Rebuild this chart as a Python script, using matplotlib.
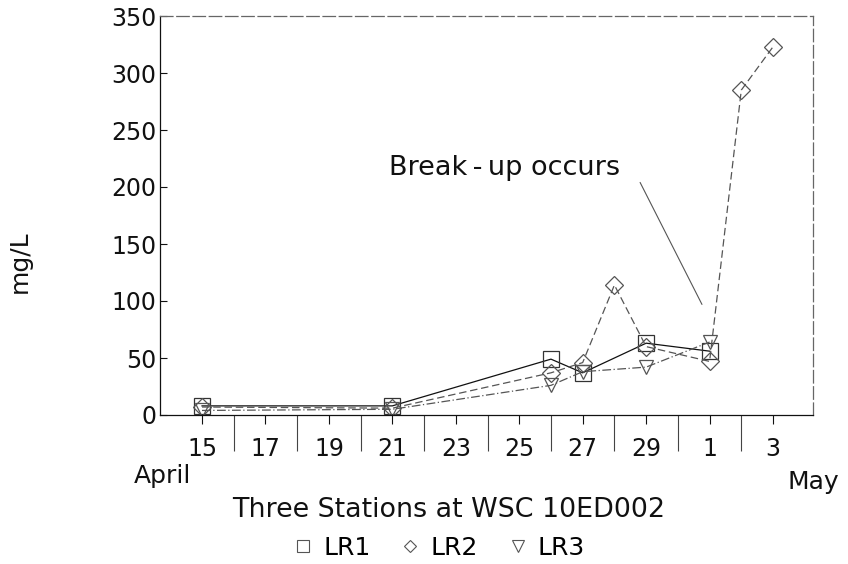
import matplotlib
matplotlib.use("Agg")
import matplotlib.pyplot as plt
from matplotlib.lines import Line2D

plt.rcParams['font.family'] = ['DejaVu Sans']

# ---- data (day number; April 15 = 15, May 1 = 31) ----
days_lr1 = [15, 21, 26, 27, 29, 31]
vals_lr1 = [8, 8, 49, 37, 63, 56]

days_lr2 = [15, 21, 26, 27, 28, 29, 31, 32, 33]
vals_lr2 = [7, 6, 37, 46, 114, 60, 47, 285, 323]

days_lr3 = [15, 21, 26, 27, 29, 31]
vals_lr3 = [4, 5, 26, 38, 42, 64]

major_days = [15, 17, 19, 21, 23, 25, 27, 29, 31, 33]
major_labels = ['15', '17', '19', '21', '23', '25', '27', '29', '1', '3']
minor_days = [16, 18, 20, 22, 24, 26, 28, 30, 32]
y_ticks = [0, 50, 100, 150, 200, 250, 300, 350]

annot_text = "Break\u2009-\u2009up occurs"
annot_text_pos = (24.55, 217)
annot_line_start = (28.81, 204)
annot_line_end = (30.76, 97)

W, H = 848, 564
fig = plt.figure(figsize=(W / 100, H / 100), dpi=100)
ax = fig.add_axes([160 / W, 1 - 415 / H, (813 - 160) / W, (415 - 16) / H])

ax.plot(days_lr1, vals_lr1, color='#111111', lw=0.9, ls='-',
        marker='s', ms=11, mfc='none', mec='#333333', mew=0.9, label='LR1')
ax.plot(days_lr2, vals_lr2, color='#555555', lw=0.9, ls=(0, (6, 3)),
        marker='D', ms=9.5, mfc='none', mec='#555555', mew=0.9, label='LR2')
ax.plot(days_lr3, vals_lr3, color='#555555', lw=0.9, ls=(0, (7, 2, 1, 2)),
        marker='v', ms=10.5, mfc='none', mec='#555555', mew=0.9, label='LR3')

ax.set_xlim(13.676, 34.26)
ax.set_ylim(0, 350)

ax.set_xticks(major_days)
ax.set_xticklabels(major_labels)
ax.set_xticks(minor_days, minor=True)
ax.tick_params(axis='x', which='major', direction='out', length=6.5, width=0.8,
               pad=9.4, labelsize=17, colors='#111111')
ax.tick_params(axis='x', which='minor', direction='out', length=26, width=0.8,
               color='#444444')
ax.set_yticks(y_ticks)
ax.tick_params(axis='y', which='major', direction='in', length=5, width=0.8,
               pad=2.5, labelsize=17, colors='#111111')

for side in ['left', 'bottom']:
    ax.spines[side].set_color('#111111')
    ax.spines[side].set_linewidth(0.9)
for side in ['top', 'right']:
    ax.spines[side].set_color('#666666')
    ax.spines[side].set_linewidth(0.9)
    ax.spines[side].set_linestyle((0, (10, 3)))

ax.text(annot_text_pos[0], annot_text_pos[1], annot_text, fontsize=19.5,
        ha='center', va='center', color='#111111')
ax.annotate('', xy=annot_line_end, xytext=annot_line_start,
            arrowprops=dict(arrowstyle='-', color='#555555', lw=0.8,
                            shrinkA=0, shrinkB=0))

fig.text(20 / W, 1 - 262 / H, 'mg/L', rotation=90, fontsize=18,
         ha='center', va='center', color='#111111')
fig.text(162 / W, 1 - 476 / H, 'April', fontsize=18, ha='center', va='center',
         color='#111111')
fig.text(813 / W, 1 - 482 / H, 'May', fontsize=18, ha='center', va='center',
         color='#111111')
fig.text(449 / W, 1 - 510 / H, 'Three Stations at WSC 10ED002', fontsize=19.4,
         ha='center', va='center', color='#111111')

handles = [
    Line2D([], [], ls='none', marker='s', ms=8, mfc='none', mec='#555555', mew=0.8),
    Line2D([], [], ls='none', marker='D', ms=6, mfc='none', mec='#555555', mew=0.8),
    Line2D([], [], ls='none', marker='v', ms=8, mfc='none', mec='#555555', mew=0.8),
]
fig.legend(handles, ['LR1', 'LR2', 'LR3'], loc='center', ncol=3, frameon=False,
           bbox_to_anchor=(439 / W, 1 - 548 / H), fontsize=18,
           handlelength=0.8, handletextpad=0.4, columnspacing=1.2,
           borderpad=0, borderaxespad=0)

fig.savefig('out.png', dpi=100)
